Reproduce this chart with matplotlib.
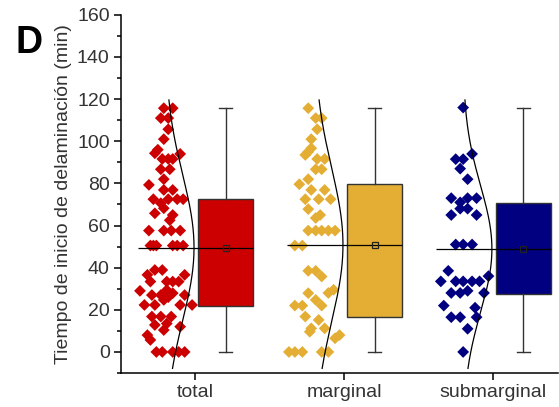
import numpy as np
import matplotlib
matplotlib.use("Agg")
import matplotlib.pyplot as plt
from matplotlib.ticker import MultipleLocator

plt.rcParams['font.family'] = ['Liberation Sans', 'DejaVu Sans']

# categorias y colores
grupos = ['total', 'marginal', 'submarginal']
colores = ['#CC0000', '#E3AE33', '#000080']

# estadisticos de las cajas
q1 = [21.8, 16.5, 27.4]
mediana = [49.5, 50.8, 48.9]
q3 = [72.6, 79.6, 70.7]
minimo = [0, 0, 0]
maximo = [116, 116, 116]
media = [49.5, 50.8, 48.9]
desv = [34.5, 36.5, 30.0]

# puntos individuales: valor (min) y desplazamiento horizontal (jitter)
total_val = [115.7, 115.7, 111, 111, 105.7, 101, 94.3, 96, 94, 91.6, 91.6, 91.6,
             86.7, 86.7, 82, 79.3, 76.9, 76.9, 72.5, 70.6, 72.5, 72.5, 72.5, 68.2,
             65.8, 65, 62.5, 57.6, 57.6, 57.6, 57.6, 50.5, 50.5, 50.5, 50.5, 50.5,
             50.5, 38.9, 38.9, 36.6, 29, 36.6, 33.4, 33.4, 33.4, 33.4, 27, 27, 29.4,
             27.9, 27, 24.7, 26, 22.3, 22.3, 22.3, 22.3, 16.8, 16.8, 16.8, 13.5, 12,
             12.8, 10.4, 8, 5.7, 0, 0, 0, 0, 0]
total_jit = [-0.21, -0.15, -0.23, -0.18, -0.18, -0.21, -0.27, -0.25, -0.10, -0.22, -0.18, -0.15,
             -0.23, -0.17, -0.21, -0.31, -0.21, -0.15, -0.28, -0.23, -0.18, -0.12, -0.08, -0.21,
             -0.27, -0.15, -0.17, -0.31, -0.21, -0.16, -0.10, -0.30, -0.28, -0.26, -0.15, -0.12,
             -0.08, -0.27, -0.22, -0.32, -0.37, -0.07, -0.30, -0.19, -0.15, -0.11, -0.29, -0.23, -0.19,
             -0.15, -0.07, -0.21, -0.18, -0.34, -0.27, -0.10, -0.02, -0.29, -0.23, -0.16, -0.19, -0.10,
             -0.27, -0.21, -0.32, -0.30, -0.26, -0.22, -0.15, -0.11, -0.07]

marg_val = [115.7, 111, 111, 105.7, 101, 93.5, 95, 96.7, 91.6, 91.6, 86.7, 86.7,
            82, 79.6, 76.9, 76.9, 72.5, 72.5, 72.5, 67.8, 63.6, 65, 57.6, 57.6,
            57.6, 57.6, 57.6, 50.5, 50.5, 38.5, 38.5, 35.8, 27.9, 24.7, 22, 28,
            29.5, 22, 22, 16.8, 15.2, 11.2, 9.6, 11.2, 6.5, 8, 0, 0, 0, 0, 0]
marg_jit = [-0.24, -0.19, -0.15, -0.18, -0.22, -0.26, -0.24, -0.22, -0.18, -0.13, -0.19, -0.15,
            -0.24, -0.30, -0.22, -0.13, -0.26, -0.17, -0.09, -0.24, -0.19, -0.16, -0.24, -0.19,
            -0.15, -0.105, -0.06, -0.33, -0.28, -0.24, -0.19, -0.15, -0.24, -0.19, -0.15, -0.105,
            -0.07, -0.33, -0.28, -0.26, -0.17, -0.22, -0.23, -0.13, -0.06, -0.03, -0.37, -0.33, -0.28,
            -0.15, -0.105]

sub_val = [116, 94, 91.5, 91.5, 87, 82, 73, 71, 73, 73, 68, 68, 65, 65, 51, 51, 51,
           38.5, 33.5, 33.5, 33.5, 33.5, 33.5, 36, 28, 28, 29, 28, 22, 21, 16.5, 16.5,
           16.5, 11, 0]
sub_jit = [-0.20, -0.14, -0.25, -0.20, -0.22, -0.17, -0.28, -0.22, -0.17, -0.11, -0.22, -0.17,
           -0.28, -0.11, -0.25, -0.20, -0.14, -0.30, -0.35, -0.25, -0.20, -0.14, -0.09, -0.03,
           -0.28, -0.22, -0.17, -0.06, -0.33, -0.12, -0.28, -0.22, -0.11, -0.17, -0.20]

valores = [total_val, marg_val, sub_val]
jitters = [total_jit, marg_jit, sub_jit]
pos = np.arange(1, len(grupos) + 1)

fig = plt.figure(figsize=(5.59, 4.07), dpi=100)
ax = fig.add_axes([0.216, 0.0835, 0.782, 0.88])

gris = '#333333'

# cajas
stats = []
for i in range(len(grupos)):
    stats.append({'q1': q1[i], 'med': mediana[i], 'q3': q3[i],
                  'whislo': minimo[i], 'whishi': maximo[i], 'fliers': []})
bp = ax.bxp(stats, positions=pos + 0.205, widths=0.37, capwidths=0.09,
            patch_artist=True, showfliers=False,
            boxprops=dict(edgecolor=gris, linewidth=1.0),
            whiskerprops=dict(color=gris, linewidth=1.0),
            capprops=dict(color=gris, linewidth=1.0),
            medianprops=dict(linewidth=0))
for caja, c in zip(bp['boxes'], colores):
    caja.set_facecolor(c)

for i in range(len(grupos)):
    # puntos
    ax.scatter(pos[i] + np.array(jitters[i]), valores[i], marker='D', s=36,
               color=colores[i], edgecolor='none', zorder=3)
    # linea de la mediana
    ax.hlines(mediana[i], pos[i] - 0.38, pos[i] + 0.39, color='black', linewidth=0.9, zorder=4)
    # marcador de la media
    ax.plot(pos[i] + 0.205, media[i], marker='s', markersize=4, markerfacecolor='none',
            markeredgecolor='#222222', markeredgewidth=0.9, zorder=5)
    # curva normal
    yy = np.linspace(-7.8, 119.6, 200)
    xx = pos[i] - 0.2 + 0.193 * np.exp(-0.5 * ((yy - media[i]) / desv[i]) ** 2)
    ax.plot(xx, yy, color='black', linewidth=0.9, zorder=4)

ax.set_xlim(0.501, 3.436)
ax.set_ylim(-10, 160)
ax.set_xticks(pos)
ax.set_xticklabels(grupos)
ax.yaxis.set_major_locator(MultipleLocator(20))
ax.yaxis.set_minor_locator(MultipleLocator(10))
ax.tick_params(axis='both', which='major', labelsize=14, labelcolor=gris, length=5,
               width=1.1, pad=3, color='black')
ax.tick_params(axis='y', which='minor', length=3, width=1.1)
ax.spines['top'].set_visible(False)
ax.spines['right'].set_visible(False)
for s in ['left', 'bottom']:
    ax.spines[s].set_linewidth(1.1)

ax.set_ylabel('Tiempo de inicio de delaminación (min)', fontsize=14, color=gris)
ax.yaxis.set_label_coords(-0.112, 0.5)

fig.text(0.027, 0.870, 'D', fontsize=27, fontweight='bold', color='black')

fig.savefig('out.png', dpi=100)
